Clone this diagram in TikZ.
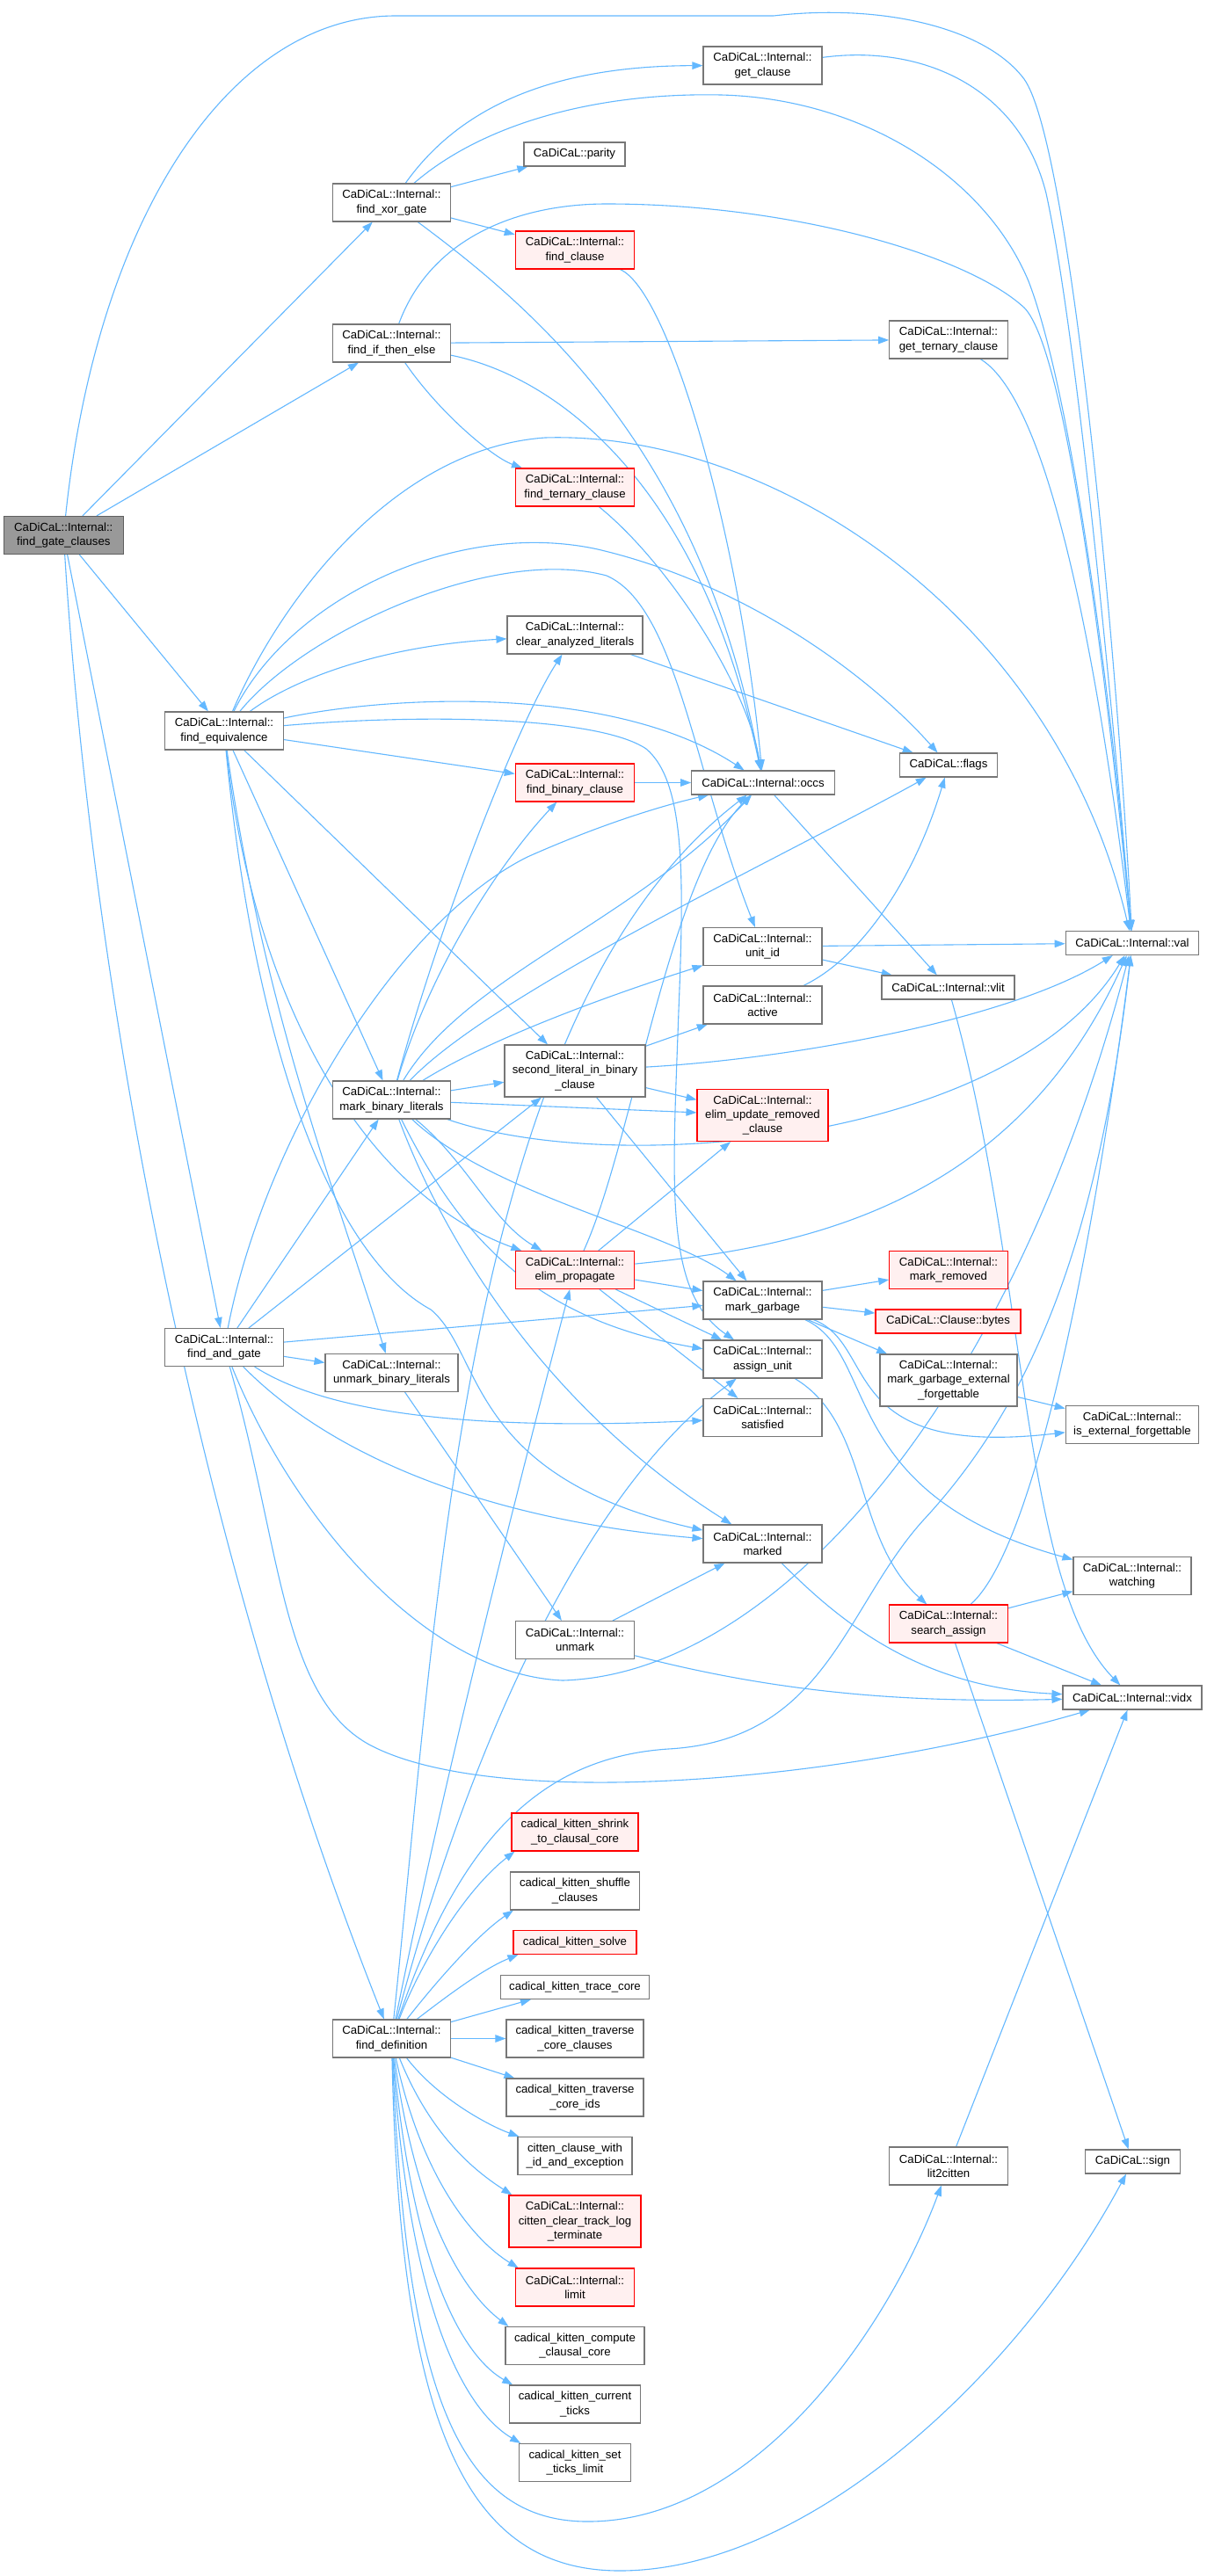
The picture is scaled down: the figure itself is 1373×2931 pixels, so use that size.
\documentclass[tikz,border=0pt]{standalone}
\usepackage{fontspec}
\setmainfont{Liberation Sans}
\usepackage{tikz}
\usetikzlibrary{arrows.meta,backgrounds}
\definecolor{kek}{HTML}{63B8FF}
\definecolor{keret}{HTML}{777777}
\definecolor{gyokerszin}{HTML}{999999}
\definecolor{halvany}{HTML}{FFF0F0}
\tikzset{
  doboz/.style={draw=keret,line width=1.1pt,fill=white,inner sep=0pt,align=center,
                minimum height=43pt,font=\fontsize{13.2}{16.3}\selectfont},
  pdoboz/.style={doboz,draw=red,fill=halvany},
  gyoker/.style={doboz,draw=keret!80!black,fill=gyokerszin},
  h1/.style={minimum height=27pt},
  h3/.style={minimum height=59pt},
  nyil/.style={draw=kek,line width=1.1pt,-{Triangle[length=12pt,width=8.5pt]}},
}
\begin{document}
\begin{tikzpicture}[x=1pt,y=-1pt]
  \useasboundingbox (0,0) rectangle (1373,2931);
  % callers
  \node[gyoker,minimum width=135.5pt] (gc) at (72.3,609) {CaDiCaL::Internal::\\find\_gate\_clauses};
  \node[doboz,minimum width=134pt] (xor) at (445.5,230.5) {CaDiCaL::Internal::\\find\_xor\_gate};
  \node[doboz,minimum width=134pt] (ite) at (445.5,390.5) {CaDiCaL::Internal::\\find\_if\_then\_else};
  \node[doboz,minimum width=134.5pt] (equ) at (255,831.5) {CaDiCaL::Internal::\\find\_equivalence};
  \node[doboz,minimum width=134.5pt] (andg) at (255,1533) {CaDiCaL::Internal::\\find\_and\_gate};
  \node[doboz,minimum width=134pt] (def) at (445.5,2319.5) {CaDiCaL::Internal::\\find\_definition};
  \node[doboz,minimum width=134pt] (mbl) at (445.5,1251.5) {CaDiCaL::Internal::\\mark\_binary\_literals};
  \node[doboz,minimum width=151pt] (ubl) at (445.5,1562) {CaDiCaL::Internal::\\unmark\_binary\_literals};
  % middle column
  \node[doboz,h1,minimum width=115pt] (par) at (653.5,175.5) {CaDiCaL::parity};
  \node[pdoboz,minimum width=135.5pt] (fcl) at (654,284.5) {CaDiCaL::Internal::\\find\_clause};
  \node[pdoboz,minimum width=135.5pt] (ftc) at (654,554.5) {CaDiCaL::Internal::\\find\_ternary\_clause};
  \node[doboz,minimum width=154pt] (cal) at (654,722.5) {CaDiCaL::Internal::\\clear\_analyzed\_literals};
  \node[pdoboz,minimum width=135.5pt] (fbc) at (654,890.5) {CaDiCaL::Internal::\\find\_binary\_clause};
  \node[doboz,h3,minimum width=160pt] (sl) at (654,1218.5) {CaDiCaL::Internal::\\second\_literal\_in\_binary\\\_clause};
  \node[pdoboz,minimum width=135.5pt] (ep) at (654,1445) {CaDiCaL::Internal::\\elim\_propagate};
  \node[doboz,minimum width=135.5pt] (unmark) at (654,1866) {CaDiCaL::Internal::\\unmark};
  % kitten
  \node[pdoboz,minimum width=144pt] (k1) at (654,2084.5) {cadical\_kitten\_shrink\\\_to\_clausal\_core};
  \node[doboz,minimum width=147pt] (k2) at (654,2151.5) {cadical\_kitten\_shuffle\\\_clauses};
  \node[pdoboz,h1,minimum width=140pt] (k3) at (654,2210) {cadical\_kitten\_solve};
  \node[doboz,h1,minimum width=169.5pt] (k4) at (654,2261) {cadical\_kitten\_trace\_core};
  \node[doboz,minimum width=156pt] (k5) at (654,2319.5) {cadical\_kitten\_traverse\\\_core\_clauses};
  \node[doboz,minimum width=156pt] (k6) at (654,2386.5) {cadical\_kitten\_traverse\\\_core\_ids};
  \node[doboz,minimum width=130pt] (k7) at (654,2453) {citten\_clause\_with\\\_id\_and\_exception};
  \node[pdoboz,h3,minimum width=150pt] (k8) at (654,2527.5) {CaDiCaL::Internal::\\citten\_clear\_track\_log\\\_terminate};
  \node[pdoboz,minimum width=135.5pt] (k9) at (654,2602.5) {CaDiCaL::Internal::\\limit};
  \node[doboz,minimum width=158pt] (k10) at (654,2669) {cadical\_kitten\_compute\\\_clausal\_core};
  \node[doboz,minimum width=148.5pt] (k11) at (654,2735.5) {cadical\_kitten\_current\\\_ticks};
  \node[doboz,minimum width=126.5pt] (k12) at (654,2802) {cadical\_kitten\_set\\\_ticks\_limit};
  % right columns
  \node[doboz,minimum width=135pt] (getc) at (867.5,74.5) {CaDiCaL::Internal::\\get\_clause};
  \node[doboz,h1,minimum width=162.5pt] (occs) at (868,890.5) {CaDiCaL::Internal::occs};
  \node[doboz,minimum width=135pt] (uid) at (867.5,1077) {CaDiCaL::Internal::\\unit\_id};
  \node[doboz,minimum width=135pt] (act) at (867.5,1143.5) {CaDiCaL::Internal::\\active};
  \node[pdoboz,h3,minimum width=149pt] (eur) at (867.5,1269) {CaDiCaL::Internal::\\elim\_update\_removed\\\_clause};
  \node[doboz,minimum width=135pt] (mg) at (867.5,1479.5) {CaDiCaL::Internal::\\mark\_garbage};
  \node[doboz,minimum width=135pt] (au) at (867.5,1546.5) {CaDiCaL::Internal::\\assign\_unit};
  \node[doboz,minimum width=135pt] (sat) at (867.5,1613) {CaDiCaL::Internal::\\satisfied};
  \node[doboz,minimum width=135pt] (marked) at (867.5,1756.5) {CaDiCaL::Internal::\\marked};
  \node[doboz,minimum width=134.5pt] (gtc) at (1079,386.5) {CaDiCaL::Internal::\\get\_ternary\_clause};
  \node[doboz,h1,minimum width=111.5pt] (flags) at (1079,870.5) {CaDiCaL::flags};
  \node[doboz,h1,minimum width=151pt] (vlit) at (1078.5,1123.5) {CaDiCaL::Internal::vlit};
  \node[pdoboz,minimum width=134.5pt] (mr) at (1079,1445) {CaDiCaL::Internal::\\mark\_removed};
  \node[pdoboz,h1,minimum width=165pt] (bytes) at (1078.5,1503.5) {CaDiCaL::Clause::bytes};
  \node[doboz,h3,minimum width=156pt] (mgef) at (1079,1570.5) {CaDiCaL::Internal::\\mark\_garbage\_external\\\_forgettable};
  \node[pdoboz,minimum width=134.5pt] (sa) at (1079,1847.5) {CaDiCaL::Internal::\\search\_assign};
  \node[doboz,minimum width=134.5pt] (l2c) at (1079,2464.5) {CaDiCaL::Internal::\\lit2citten};
  \node[doboz,h1,minimum width=151.5pt] (val) at (1288,1073) {CaDiCaL::Internal::val};
  \node[doboz,minimum width=151.5pt] (ief) at (1288,1621) {CaDiCaL::Internal::\\is\_external\_forgettable};
  \node[doboz,minimum width=134pt] (watch) at (1288,1793) {CaDiCaL::Internal::\\watching};
  \node[doboz,h1,minimum width=158pt] (vidx) at (1288,1931.5) {CaDiCaL::Internal::vidx};
  \node[doboz,h1,minimum width=108pt] (sign) at (1288.5,2459.5) {CaDiCaL::sign};

  \begin{scope}[on background layer]
  \fill[white] (0,0) rectangle (1373,2931);
  % find_gate_clauses
  \draw[nyil] (gc) .. controls (110,250) and (260,18) .. (450,18) -- (880,18)
    .. controls (1000,4) and (1120,30) .. (1165,90) .. controls (1215,160) and (1268,700) .. (val);
  \draw[nyil] (gc) -- (xor);
  \draw[nyil] (gc) -- (ite);
  \draw[nyil] (gc) -- (equ);
  \draw[nyil] (gc) -- (andg);
  \draw[nyil] (gc) .. controls (100,1050) and (200,1700) .. (def);
  % find_xor_gate, find_if_then_else
  \draw[nyil] (xor) .. controls (510,140) and (600,75) .. (getc);
  \draw[nyil] (xor) .. controls (550,140) and (680,105) .. (820,108) .. controls (980,112) and (1120,200) .. (1170,320)
    .. controls (1220,450) and (1265,800) .. (val);
  \draw[nyil] (xor) -- (par);
  \draw[nyil] (xor) -- (fcl);
  \draw[nyil] (xor) .. controls (620,360) and (800,520) .. (occs);
  \draw[nyil] (ite) .. controls (490,270) and (590,232) .. (690,232) .. controls (900,232) and (1100,290) .. (1165,350)
    .. controls (1215,400) and (1262,800) .. (val);
  \draw[nyil] (ite) -- (gtc);
  \draw[nyil] (ite) .. controls (500,470) and (560,520) .. (ftc);
  \draw[nyil] (ite) .. controls (640,430) and (800,560) .. (occs);
  \draw[nyil] (getc) .. controls (1050,50) and (1160,100) .. (1190,220) .. controls (1225,380) and (1265,800) .. (val);
  \draw[nyil] (gtc) .. controls (1200,460) and (1255,800) .. (val);
  \draw[nyil] (fcl) .. controls (760,330) and (840,600) .. (occs);
  \draw[nyil] (ftc) .. controls (760,640) and (850,780) .. (occs);
  % find_equivalence
  \draw[nyil] (equ) .. controls (320,680) and (450,510) .. (620,498) .. controls (880,490) and (1200,700) .. (val);
  \draw[nyil] (equ) .. controls (330,680) and (520,590) .. (680,625) .. controls (850,665) and (990,770) .. (flags);
  \draw[nyil] (equ) .. controls (345,720) and (560,620) .. (690,655) .. controls (770,690) and (790,880) .. (uid);
  \draw[nyil] (equ) .. controls (330,775) and (430,735) .. (cal);
  \draw[nyil] (equ) .. controls (450,790) and (700,780) .. (occs);
  \draw[nyil] (equ) .. controls (480,812) and (680,815) .. (735,852) .. controls (780,890) and (778,1000) .. (772,1150)
    .. controls (765,1350) and (755,1470) .. (au);
  \draw[nyil] (equ) -- (fbc);
  \draw[nyil] (equ) -- (mbl);
  \draw[nyil] (equ) -- (sl);
  \draw[nyil] (equ) .. controls (290,1150) and (420,1360) .. (ep);
  \draw[nyil] (equ) .. controls (290,1200) and (380,1430) .. (490,1490) .. controls (550,1540) and (530,1680) .. (marked);
  \draw[nyil] (equ) .. controls (300,1150) and (380,1350) .. (ubl);
  % find_and_gate
  \draw[nyil] (andg) .. controls (300,1300) and (450,1050) .. (600,975) .. controls (690,935) and (760,915) .. (occs);
  \draw[nyil] (andg) -- (mbl);
  \draw[nyil] (andg) -- (sl);
  \draw[nyil] (andg) -- (mg);
  \draw[nyil] (andg) -- (ubl);
  \draw[nyil] (andg) .. controls (360,1600) and (500,1630) .. (sat);
  \draw[nyil] (andg) .. controls (380,1660) and (560,1730) .. (marked);
  \draw[nyil] (andg) .. controls (330,1720) and (480,1905) .. (640,1912) .. controls (880,1905) and (1150,1600) .. (val);
  \draw[nyil] (andg) .. controls (320,1760) and (320,1930) .. (420,1985) .. controls (560,2060) and (950,2030) .. (vidx);
  % mark_binary_literals
  \draw[nyil] (mbl) .. controls (500,1050) and (590,820) .. (cal);
  \draw[nyil] (mbl) .. controls (490,1100) and (570,980) .. (fbc);
  \draw[nyil] (mbl) .. controls (530,1110) and (720,1050) .. (occs);
  \draw[nyil] (mbl) .. controls (560,1130) and (900,970) .. (flags);
  \draw[nyil] (mbl) .. controls (560,1180) and (700,1130) .. (uid);
  \draw[nyil] (mbl) -- (sl);
  \draw[nyil] (mbl) -- (eur);
  \draw[nyil] (mbl) .. controls (700,1340) and (1150,1300) .. (val);
  \draw[nyil] (mbl) .. controls (530,1320) and (560,1390) .. (ep);
  \draw[nyil] (mbl) .. controls (560,1360) and (760,1400) .. (mg);
  \draw[nyil] (mbl) .. controls (520,1400) and (600,1500) .. (au);
  \draw[nyil] (mbl) .. controls (520,1450) and (650,1620) .. (marked);
  % second_literal_in_binary_clause, elim_propagate
  \draw[nyil] (sl) -- (act);
  \draw[nyil] (sl) .. controls (900,1205) and (1150,1160) .. (val);
  \draw[nyil] (sl) -- (eur);
  \draw[nyil] (sl) -- (mg);
  \draw[nyil] (ep) .. controls (720,1300) and (760,1000) .. (occs);
  \draw[nyil] (ep) -- (eur);
  \draw[nyil] (ep) .. controls (900,1420) and (1150,1380) .. (val);
  \draw[nyil] (ep) -- (mg);
  \draw[nyil] (ep) -- (au);
  \draw[nyil] (ep) -- (sat);
  % helpers
  \draw[nyil] (cal) -- (flags);
  \draw[nyil] (fbc) -- (occs);
  \draw[nyil] (uid) -- (val);
  \draw[nyil] (uid) -- (vlit);
  \draw[nyil] (occs) -- (vlit);
  \draw[nyil] (act) .. controls (980,1090) and (1040,1000) .. (flags);
  \draw[nyil] (vlit) .. controls (1170,1450) and (1160,1800) .. (vidx);
  \draw[nyil] (mg) -- (mr);
  \draw[nyil] (mg) -- (bytes);
  \draw[nyil] (mg) -- (mgef);
  \draw[nyil] (mg) .. controls (1000,1530) and (950,1660) .. (ief);
  \draw[nyil] (mg) .. controls (1000,1540) and (950,1700) .. (watch);
  \draw[nyil] (mgef) -- (ief);
  \draw[nyil] (au) .. controls (990,1620) and (970,1750) .. (sa);
  \draw[nyil] (sa) .. controls (1190,1750) and (1260,1300) .. (val);
  \draw[nyil] (sa) -- (watch);
  \draw[nyil] (sa) -- (vidx);
  \draw[nyil] (sa) -- (sign);
  \draw[nyil] (ubl) -- (unmark);
  \draw[nyil] (unmark) -- (marked);
  \draw[nyil] (unmark) .. controls (900,1930) and (1050,1937) .. (vidx);
  \draw[nyil] (marked) .. controls (960,1850) and (1050,1920) .. (vidx);
  \draw[nyil] (l2c) -- (vidx);
  % find_definition
  \draw[nyil] (def) .. controls (480,2230) and (530,2150) .. ([xshift=4pt]k1.south west);
  \draw[nyil] (def) .. controls (500,2250) and (545,2200) .. ([xshift=4pt]k2.south west);
  \draw[nyil] (def) .. controls (510,2270) and (550,2240) .. ([xshift=6pt]k3.south west);
  \draw[nyil] (def) -- (k4);
  \draw[nyil] (def) -- (k5);
  \draw[nyil] (def) -- (k6);
  \draw[nyil] (def) .. controls (500,2390) and (560,2420) .. ([xshift=2pt]k7.north west);
  \draw[nyil] (def) .. controls (490,2430) and (540,2470) .. ([xshift=4pt]k8.north west);
  \draw[nyil] (def) .. controls (480,2480) and (540,2550) .. ([xshift=4pt]k9.north west);
  \draw[nyil] (def) .. controls (475,2530) and (530,2610) .. ([xshift=4pt]k10.north west);
  \draw[nyil] (def) .. controls (470,2580) and (525,2680) .. ([xshift=4pt]k11.north west);
  \draw[nyil] (def) .. controls (465,2620) and (525,2740) .. ([xshift=2pt]k12.north west);
  \draw[nyil] (def) .. controls (462,2720) and (520,2870) .. (670,2869) .. controls (860,2868) and (1010,2650) .. (l2c);
  \draw[nyil] (def) .. controls (455,2760) and (530,2925) .. (705,2925) .. controls (920,2925) and (1160,2700) .. (sign);
  \draw[nyil] (def) .. controls (520,2100) and (610,2000) .. (760,1990) .. controls (940,1980) and (960,1830) .. (1050,1730)
    .. controls (1180,1590) and (1250,1400) .. (val);
  \draw[nyil] (def) .. controls (500,1800) and (530,1150) .. (occs);
  \draw[nyil] (def) .. controls (510,2000) and (600,1650) .. (ep);
  \draw[nyil] (def) .. controls (530,2000) and (660,1700) .. (au);
  \end{scope}
\end{tikzpicture}
\end{document}
